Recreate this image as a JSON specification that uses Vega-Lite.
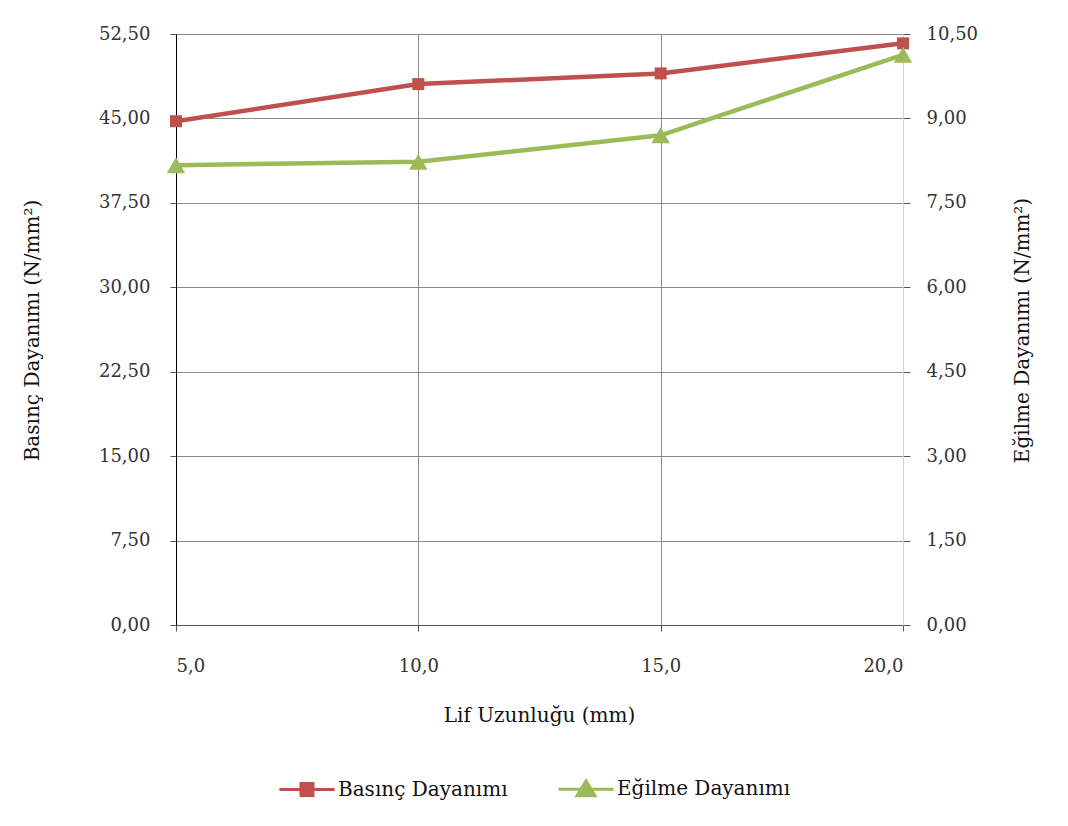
{
  "$schema": "https://vega.github.io/schema/vega-lite/v6.json",
  "width": 727,
  "height": 591,
  "autosize": {"type": "none"},
  "padding": {"left": 176, "top": 34, "right": 165, "bottom": 201},
  "background": "white",
  "datasets": {
    "main": [
      {"lif": 5, "basinc": 44.75, "egilme": 8.17},
      {"lif": 10, "basinc": 48.05, "egilme": 8.23},
      {"lif": 15, "basinc": 49.0, "egilme": 8.70},
      {"lif": 20, "basinc": 51.67, "egilme": 10.13}
    ],
    "series": [
      {"s": "Basınç Dayanımı"},
      {"s": "Eğilme Dayanımı"}
    ]
  },
  "encoding": {
    "x": {
      "field": "lif",
      "type": "quantitative",
      "scale": {"domain": [5, 20], "nice": false, "zero": false},
      "axis": {
        "values": [5, 10, 15, 20],
        "labelExpr": "replace(format(datum.value, '.1f'), '.', ',')",
        "title": "Lif Uzunluğu (mm)",
        "titleX": 363,
        "titleY": 90,
        "titleBaseline": "middle",
        "tickSize": 6,
        "labelPadding": 26,
        "domainColor": "#555555",
        "tickColor": "#555555",
        "gridColor": {"condition": {"test": "datum.value == 20", "value": "#d4d4d4"}, "value": "#8a8a8a"}
      }
    }
  },
  "layer": [
    {
      "data": {"name": "main"},
      "mark": {"type": "line", "color": "#C0504D", "strokeWidth": 4.5, "point": {"shape": "square", "filled": true, "size": 144, "color": "#C0504D"}},
      "encoding": {
        "y": {
          "field": "basinc",
          "type": "quantitative",
          "scale": {"domain": [0, 52.5], "nice": false},
          "axis": {
            "orient": "left",
            "values": [0, 7.5, 15, 22.5, 30, 37.5, 45, 52.5],
            "labelExpr": "replace(format(datum.value, '.2f'), '.', ',')",
            "title": "Basınç Dayanımı (N/mm²)",
            "titleX": -144,
            "titleY": 296,
            "titleAngle": 270,
            "titleBaseline": "middle",
            "tickSize": 6,
            "labelPadding": 20,
            "domainColor": "#000000",
            "tickColor": "#555555",
            "gridColor": "#8a8a8a"
          }
        }
      }
    },
    {
      "data": {"name": "main"},
      "mark": {"type": "line", "color": "#9BBB59", "strokeWidth": 4.5, "point": {"shape": "triangle-up", "filled": true, "size": 340, "color": "#9BBB59"}},
      "encoding": {
        "y": {
          "field": "egilme",
          "type": "quantitative",
          "scale": {"domain": [0, 10.5], "nice": false},
          "axis": {
            "orient": "right",
            "values": [0, 1.5, 3, 4.5, 6, 7.5, 9, 10.5],
            "labelExpr": "replace(format(datum.value, '.2f'), '.', ',')",
            "title": "Eğilme Dayanımı (N/mm²)",
            "titleX": 119,
            "titleY": 296,
            "titleAngle": 270,
            "titleBaseline": "middle",
            "tickSize": 7,
            "labelPadding": 16,
            "grid": false,
            "domainColor": "#d4d4d4",
            "tickColor": "#555555"
          }
        }
      }
    },
    {
      "data": {"name": "series"},
      "mark": {"type": "point", "filled": true, "opacity": 0},
      "encoding": {
        "shape": {
          "field": "s",
          "type": "nominal",
          "scale": {
            "domain": ["Basınç Dayanımı", "Eğilme Dayanımı"],
            "range": ["M-4.6,0H4.6M-1,-1H1V1H-1Z", "M-4.6,0H4.6M0,-1.4L1.5,1.1H-1.5Z"]
          },
          "legend": {"title": null}
        },
        "fill": {
          "field": "s",
          "type": "nominal",
          "scale": {"domain": ["Basınç Dayanımı", "Eğilme Dayanımı"], "range": ["#C0504D", "#9BBB59"]},
          "legend": {"title": null}
        },
        "stroke": {
          "field": "s",
          "type": "nominal",
          "scale": {"domain": ["Basınç Dayanımı", "Eğilme Dayanımı"], "range": ["#C0504D", "#9BBB59"]},
          "legend": {"title": null}
        }
      }
    }
  ],
  "resolve": {"scale": {"y": "independent"}},
  "config": {
    "view": {"stroke": null},
    "font": "DejaVu Serif",
    "axis": {
      "labelFont": "DejaVu Serif",
      "labelFontSize": 18,
      "labelColor": "#333333",
      "titleFont": "DejaVu Serif",
      "titleFontSize": 20,
      "titleFontWeight": "normal",
      "titleColor": "#111111",
      "gridWidth": 1,
      "domainWidth": 1
    },
    "legend": {
      "orient": "none",
      "legendX": 121,
      "legendY": 745,
      "direction": "horizontal",
      "padding": 0,
      "symbolSize": 144,
      "symbolStrokeWidth": 3,
      "symbolOpacity": 1,
      "labelOffset": 21,
      "labelLimit": 400,
      "columnPadding": 44,
      "labelFont": "DejaVu Serif",
      "labelFontSize": 20,
      "labelColor": "#111111"
    }
  }
}
